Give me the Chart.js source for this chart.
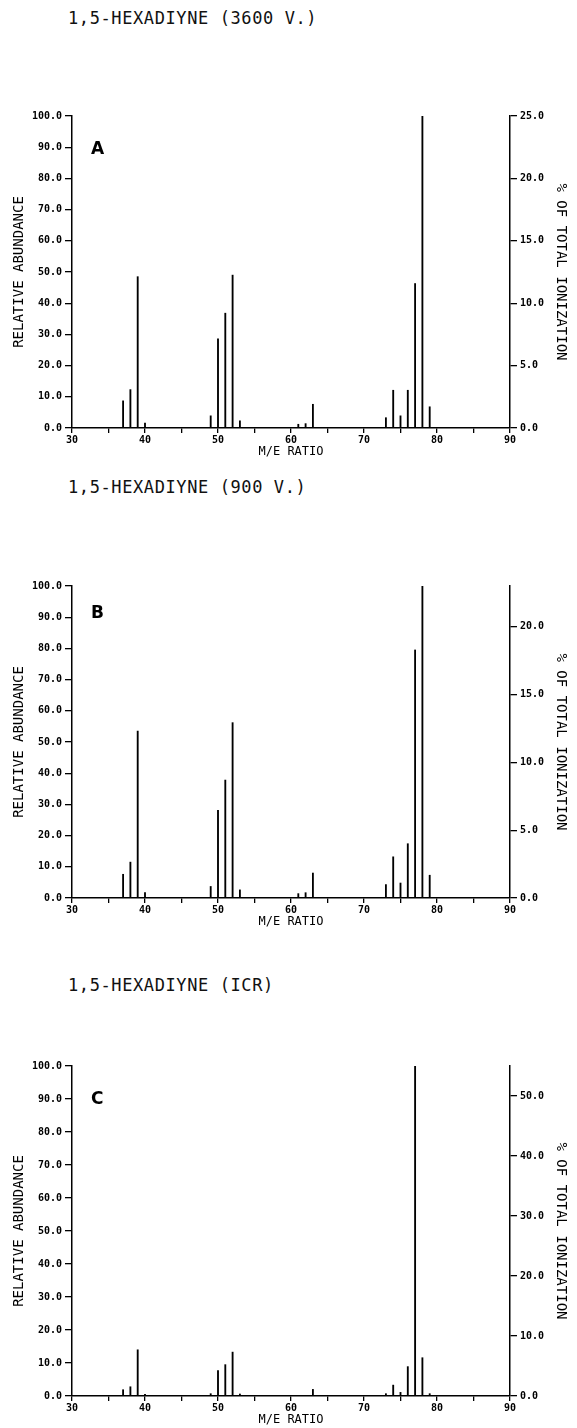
<!DOCTYPE html>
<html lang="en">
<head>
    <meta charset="UTF-8">
    <title>1,5-Hexadiyne mass spectra</title>
    <script src="https://cdn.jsdelivr.net/npm/chart.js"></script>
    <style>
        body { margin: 0; background: #fff; width: 577px; height: 1428px; position: relative; overflow: hidden; }
        .panel { position: absolute; left: 0; width: 577px; }
        .ptitle { position: absolute; left: 68px; font: 17px "DejaVu Sans Mono", monospace; letter-spacing: 0.6px; color: #111; white-space: pre; }
        .letter { position: absolute; left: 91px; font: bold 17px "DejaVu Sans", sans-serif; color: #000; }
    </style>
</head>
<body>
    <div class="ptitle" style="top:8px">1,5-HEXADIYNE (3600 V.)</div>
    <div class="ptitle" style="top:477px">1,5-HEXADIYNE (900 V.)</div>
    <div class="ptitle" style="top:975px">1,5-HEXADIYNE (ICR)</div>

    <div class="panel" style="top:100px;height:360px"><canvas id="chartA" width="577" height="360"></canvas></div>
    <div class="panel" style="top:570px;height:360px"><canvas id="chartB" width="577" height="360"></canvas></div>
    <div class="panel" style="top:1050px;height:378px"><canvas id="chartC" width="577" height="378"></canvas></div>

    <div class="letter" style="top:138px">A</div>
    <div class="letter" style="top:602px">B</div>
    <div class="letter" style="top:1088px">C</div>

    <script>
    // m/e values and relative abundances
    const massRatios = [37, 38, 39, 40, 49, 50, 51, 52, 53, 61, 62, 63, 73, 74, 75, 76, 77, 78, 79];
    const abundanceA = [8.7, 12.3, 48.5, 1.6, 3.9, 28.6, 36.8, 49.0, 2.3, 1.2, 1.4, 7.6, 3.3, 12.1, 3.9, 12.1, 46.3, 100, 6.8];
    const abundanceB = [7.6, 11.5, 53.5, 1.7, 3.7, 28.1, 37.8, 56.2, 2.6, 1.4, 1.7, 8.0, 4.3, 13.2, 4.8, 17.4, 79.5, 100, 7.3];
    const abundanceC = [1.9, 2.8, 14.0, 0.5, 0.7, 7.7, 9.5, 13.3, 0.6, 0.2, 0.2, 2.0, 0.7, 3.3, 1.1, 8.9, 100, 11.6, 0.7];
    // right axis (% of total ionization) at 100 relative abundance
    const ionMaxA = 25, ionMaxB = 23, ionMaxC = 55;
    const ionStepA = 5, ionStepB = 5, ionStepC = 10;

    const tickFont = { family: 'DejaVu Sans Mono', size: 10, weight: 'bold' };
    const axisTitleFont = { family: 'DejaVu Sans Mono', size: 14 };

    function makeChart(id, values, ionMax, ionStep, plotHeight) {
        const ctx = document.getElementById(id).getContext('2d');
        const canvasH = document.getElementById(id).height;
        return new Chart(ctx, {
            type: 'bar',
            data: {
                datasets: [{
                    data: massRatios.map((m, i) => ({ x: m, y: values[i] })),
                    backgroundColor: '#000',
                    barThickness: 1.2,
                    yAxisID: 'y'
                }]
            },
            options: {
                responsive: false,
                animation: false,
                layout: { padding: { top: 16, left: 0, right: 0, bottom: 0 } },
                plugins: { legend: { display: false }, tooltip: { enabled: false } },
                scales: {
                    x: {
                        type: 'linear', min: 30, max: 90, offset: false,
                        grid: { offset: false, drawOnChartArea: false, color: '#000', tickLength: 5, lineWidth: 1.3 },
                        border: { color: '#000', width: 1.5 },
                        ticks: {
                            stepSize: 5, color: '#000', font: tickFont, padding: 1, maxRotation: 0, autoSkip: false,
                            callback: v => (v % 10 === 0 ? String(v) : '')
                        },
                        title: { display: true, text: 'M/E RATIO', color: '#000', font: { family: 'DejaVu Sans Mono', size: 12 }, padding: { top: 0, bottom: 1 } },
                        afterFit: s => { s.height = canvasH - 16 - plotHeight; }
                    },
                    y: {
                        position: 'left', min: 0, max: 100,
                        grid: { drawOnChartArea: false, color: '#000', tickLength: 7, lineWidth: 1.3 },
                        border: { color: '#000', width: 1.5 },
                        ticks: { stepSize: 10, color: '#000', font: tickFont, padding: 3, callback: v => v.toFixed(1) },
                        title: { display: true, text: 'RELATIVE ABUNDANCE', color: '#000', font: axisTitleFont, padding: { top: 11, bottom: 0 } },
                        afterFit: s => { s.width = 72; }
                    },
                    y2: {
                        position: 'right', min: 0, max: ionMax,
                        grid: { drawOnChartArea: false, color: '#000', tickLength: 7, lineWidth: 1.3 },
                        border: { color: '#000', width: 1.5 },
                        ticks: { stepSize: ionStep, includeBounds: false, color: '#000', font: tickFont, padding: 3, callback: v => v.toFixed(1) },
                        title: { display: true, text: '% OF TOTAL IONIZATION', color: '#000', font: axisTitleFont, padding: { top: 8, bottom: 0 } },
                        afterFit: s => { s.width = 577 - 510; }
                    }
                }
            }
        });
    }

    makeChart('chartA', abundanceA, ionMaxA, ionStepA, 312);
    makeChart('chartB', abundanceB, ionMaxB, ionStepB, 312);
    makeChart('chartC', abundanceC, ionMaxC, ionStepC, 330);
    </script>
</body>
</html>
